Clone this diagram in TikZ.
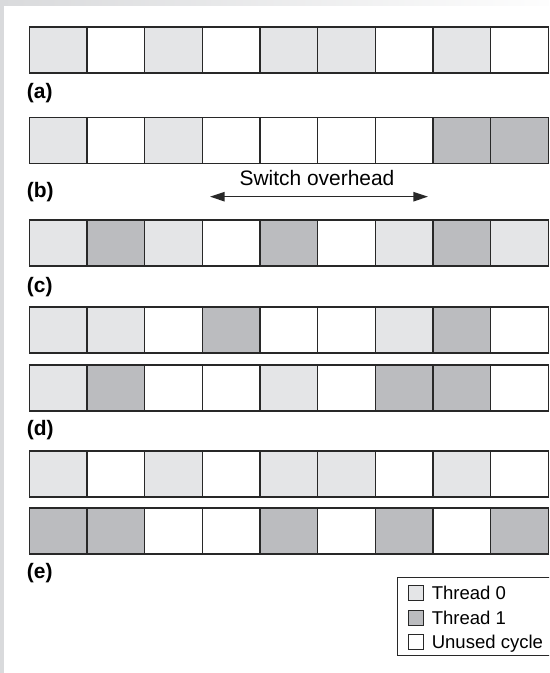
\documentclass[tikz,border=0pt]{standalone}
\usepackage{fontspec}
\setmainfont{Liberation Sans}
\usetikzlibrary{arrows.meta,positioning}
\definecolor{thrzero}{RGB}{228,229,231}
\definecolor{throne}{RGB}{187,188,191}
\definecolor{edge}{RGB}{40,40,40}
\definecolor{margin}{RGB}{217,218,220}
\tikzset {>={Triangle[length=11pt,width=7pt]},
  cyc/.style={draw=edge,line width=1.2pt,minimum width=43.25pt,minimum height=34.7pt,inner sep=0pt,outer sep=0pt},
  cyc0/.style={cyc,fill=white},
  cyc1/.style={cyc,fill=thrzero},
  cyc2/.style={cyc,fill=throne},
  tag/.style={font=\bfseries\fontsize{15.7}{18}\selectfont,anchor=west,inner sep=0pt},
  swatch/.style={draw=edge,line width=0.75pt,minimum size=11.25pt,inner sep=0pt},
  keytext/.style={font=\fontsize{13.9}{16}\selectfont,inner sep=0pt,text height=10pt,text depth=0pt,right=5.8pt of #1}}
% one row of nine cycles: name, height, fill codes
\newcommand\cycles[3]{\foreach \k [count=\i] in {#3}
  \node[cyc\k] (#1\i) at ({29.3+57.67*(\i-0.5)},#2) {};}

\begin{document}
\begin{tikzpicture}[x=0.75pt,y=0.75pt]
\useasboundingbox (0,0) rectangle (549,673);
\clip (0,0) rectangle (549,673);
\fill[margin] (0,0) rectangle (549,673);
\shade[left color=margin,right color=white!95!margin] (0,667) rectangle (549,673);
\fill[white] (4,0) rectangle (549,667);

\cycles{a}{623.15}{1,0,1,0,1,1,0,1,0}
\cycles{b}{532.55}{1,0,1,0,0,0,0,2,2}
\cycles{c}{429.85}{1,2,1,0,2,0,1,2,1}
\cycles{d}{342.85}{1,1,0,2,0,0,1,2,0}
\cycles{dd}{285.15}{1,2,0,0,1,0,2,2,0}
\cycles{e}{199.15}{1,0,1,0,1,1,0,1,0}
\cycles{ee}{142.15}{2,2,0,0,2,0,2,0,2}

\node[tag] (la) at (26.7,580) {(a)};
\node[tag] (lb) at (26.7,481) {(b)};
\node[tag] (lc) at (26.7,386) {(c)};
\node[tag] (ld) at (26.7,243) {(d)};
\node[tag] (le) at (26.7,100) {(e)};

% switch overhead
\node[font=\fontsize{15.7}{18}\selectfont,inner sep=0pt] (sw) at (317,495) {Switch overhead};
\coordinate (swl) at (210,476.3);
\coordinate (swr) at (428,476.3);
\draw[<->,edge,line width=1.1pt] (swl) -- (swr);

% legend
\node[draw=edge,line width=0.75pt,minimum width=119pt,minimum height=58.8pt,inner sep=0pt] (key) at (476.6,56.5) {};
\node[swatch,fill=thrzero] (k0) at (415.8,79.7) {};
\node[swatch,fill=throne] (k1) at (415.8,55.3) {};
\node[swatch,fill=white] (k2) at (415.8,31.3) {};
\node[keytext=k0] (k0t) {Thread 0};
\node[keytext=k1] (k1t) {Thread 1};
\node[keytext=k2] (k2t) {Unused cycle};
\end{tikzpicture}
\end{document}
